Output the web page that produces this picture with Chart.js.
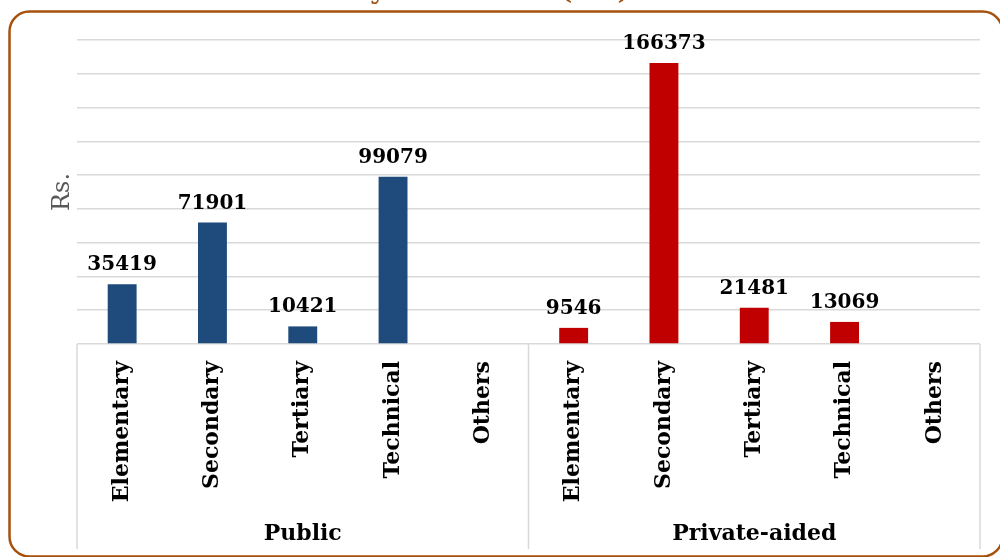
<!DOCTYPE html>
<html>
<head>
<meta charset="utf-8">
<script src="https://cdn.jsdelivr.net/npm/chart.js@4.4.1/dist/chart.umd.min.js"></script>
<style>
  html, body { margin: 0; padding: 0; background: #fff; }
  #wrap { width: 1000px; height: 557px; position: relative; }
</style>
</head>
<body>
<div id="wrap"><canvas id="costChart" width="1000" height="557"></canvas></div>
<script>
const categories = ['Elementary', 'Secondary', 'Tertiary', 'Technical', 'Others'];
const groups = ['Public', 'Private-aided'];
const publicValues = [35419, 71901, 10421, 99079, null];
const privateValues = [9546, 166373, 21481, 13069, null];
const yTicks = { min: 0, max: 180000, step: 20000 };

const titleText = 'Unit Cost by Institution (Rs.)';
const serif = "'DejaVu Serif', serif";

const labels = categories.concat(categories);
const values = publicValues.concat(privateValues);
const colors = categories.map(() => '#1F4A7C').concat(categories.map(() => '#C00000'));

// border box, clipped title, group labels, separators and value labels
const decorations = {
  id: 'decorations',
  beforeDraw(chart) {
    const c = chart.ctx;
    c.save();
    c.strokeStyle = '#A5520F';
    c.lineWidth = 2.5;
    c.beginPath();
    c.roundRect(9.5, 11.5, 993, 545, 20);
    c.stroke();

    c.fillStyle = '#9E4F12';
    c.font = "bold 26px " + serif;
    c.textBaseline = 'alphabetic';
    const prefix = c.measureText('Unit Cost by Institution ').width;
    c.fillText(titleText, 560 - prefix, -1);
    c.restore();
  },
  afterDraw(chart) {
    const c = chart.ctx;
    const x = chart.scales.x;
    const area = chart.chartArea;
    const n = categories.length;
    c.save();
    c.strokeStyle = '#D9D9D9';
    c.lineWidth = 1.5;
    const edges = [];
    for (let g = 0; g <= groups.length; g++) {
      const i = g * n;
      const px = i < labels.length
        ? x.getPixelForValue(i) - (x.getPixelForValue(1) - x.getPixelForValue(0)) / 2
        : area.right;
      edges.push(px);
      c.beginPath();
      c.moveTo(px, area.bottom);
      c.lineTo(px, 549);
      c.stroke();
    }
    c.fillStyle = '#000';
    c.font = "bold 22px " + serif;
    c.textAlign = 'center';
    c.textBaseline = 'middle';
    groups.forEach((g, i) => {
      c.fillText(g, (edges[i] + edges[i + 1]) / 2, 534);
    });

    c.font = "bold 20px " + serif;
    c.textBaseline = 'alphabetic';
    const meta = chart.getDatasetMeta(0);
    meta.data.forEach((bar, i) => {
      const v = values[i];
      if (v === null || v === undefined) return;
      c.fillText(String(v), bar.x, bar.y - 14);
    });
    c.restore();
  }
};

new Chart(document.getElementById('costChart'), {
  type: 'bar',
  data: {
    labels: labels,
    datasets: [{
      data: values,
      backgroundColor: colors,
      borderWidth: 0,
      barPercentage: 0.64,
      categoryPercentage: 0.5
    }]
  },
  options: {
    responsive: false,
    animation: false,
    events: [],
    layout: { padding: { left: 48, right: 20, top: 40, bottom: 0 } },
    plugins: { legend: { display: false }, tooltip: { enabled: false } },
    scales: {
      x: {
        grid: { display: false },
        border: { display: false },
        ticks: {
          autoSkip: false,
          minRotation: 90,
          maxRotation: 90,
          padding: 9,
          color: '#000',
          font: { family: serif, size: 22, weight: 'bold' }
        },
        afterFit(s) { s.height = 213; }
      },
      y: {
        min: yTicks.min,
        max: yTicks.max,
        grid: { color: '#D9D9D9', lineWidth: 1.5, drawTicks: false },
        border: { display: false },
        ticks: { display: false, stepSize: yTicks.step },
        title: {
          display: true,
          text: 'Rs.',
          color: '#595959',
          padding: 0,
          font: { family: serif, size: 24, weight: 'normal' }
        },
        afterFit(s) { s.width = 29; }
      }
    }
  },
  plugins: [decorations]
});
</script>
</body>
</html>
